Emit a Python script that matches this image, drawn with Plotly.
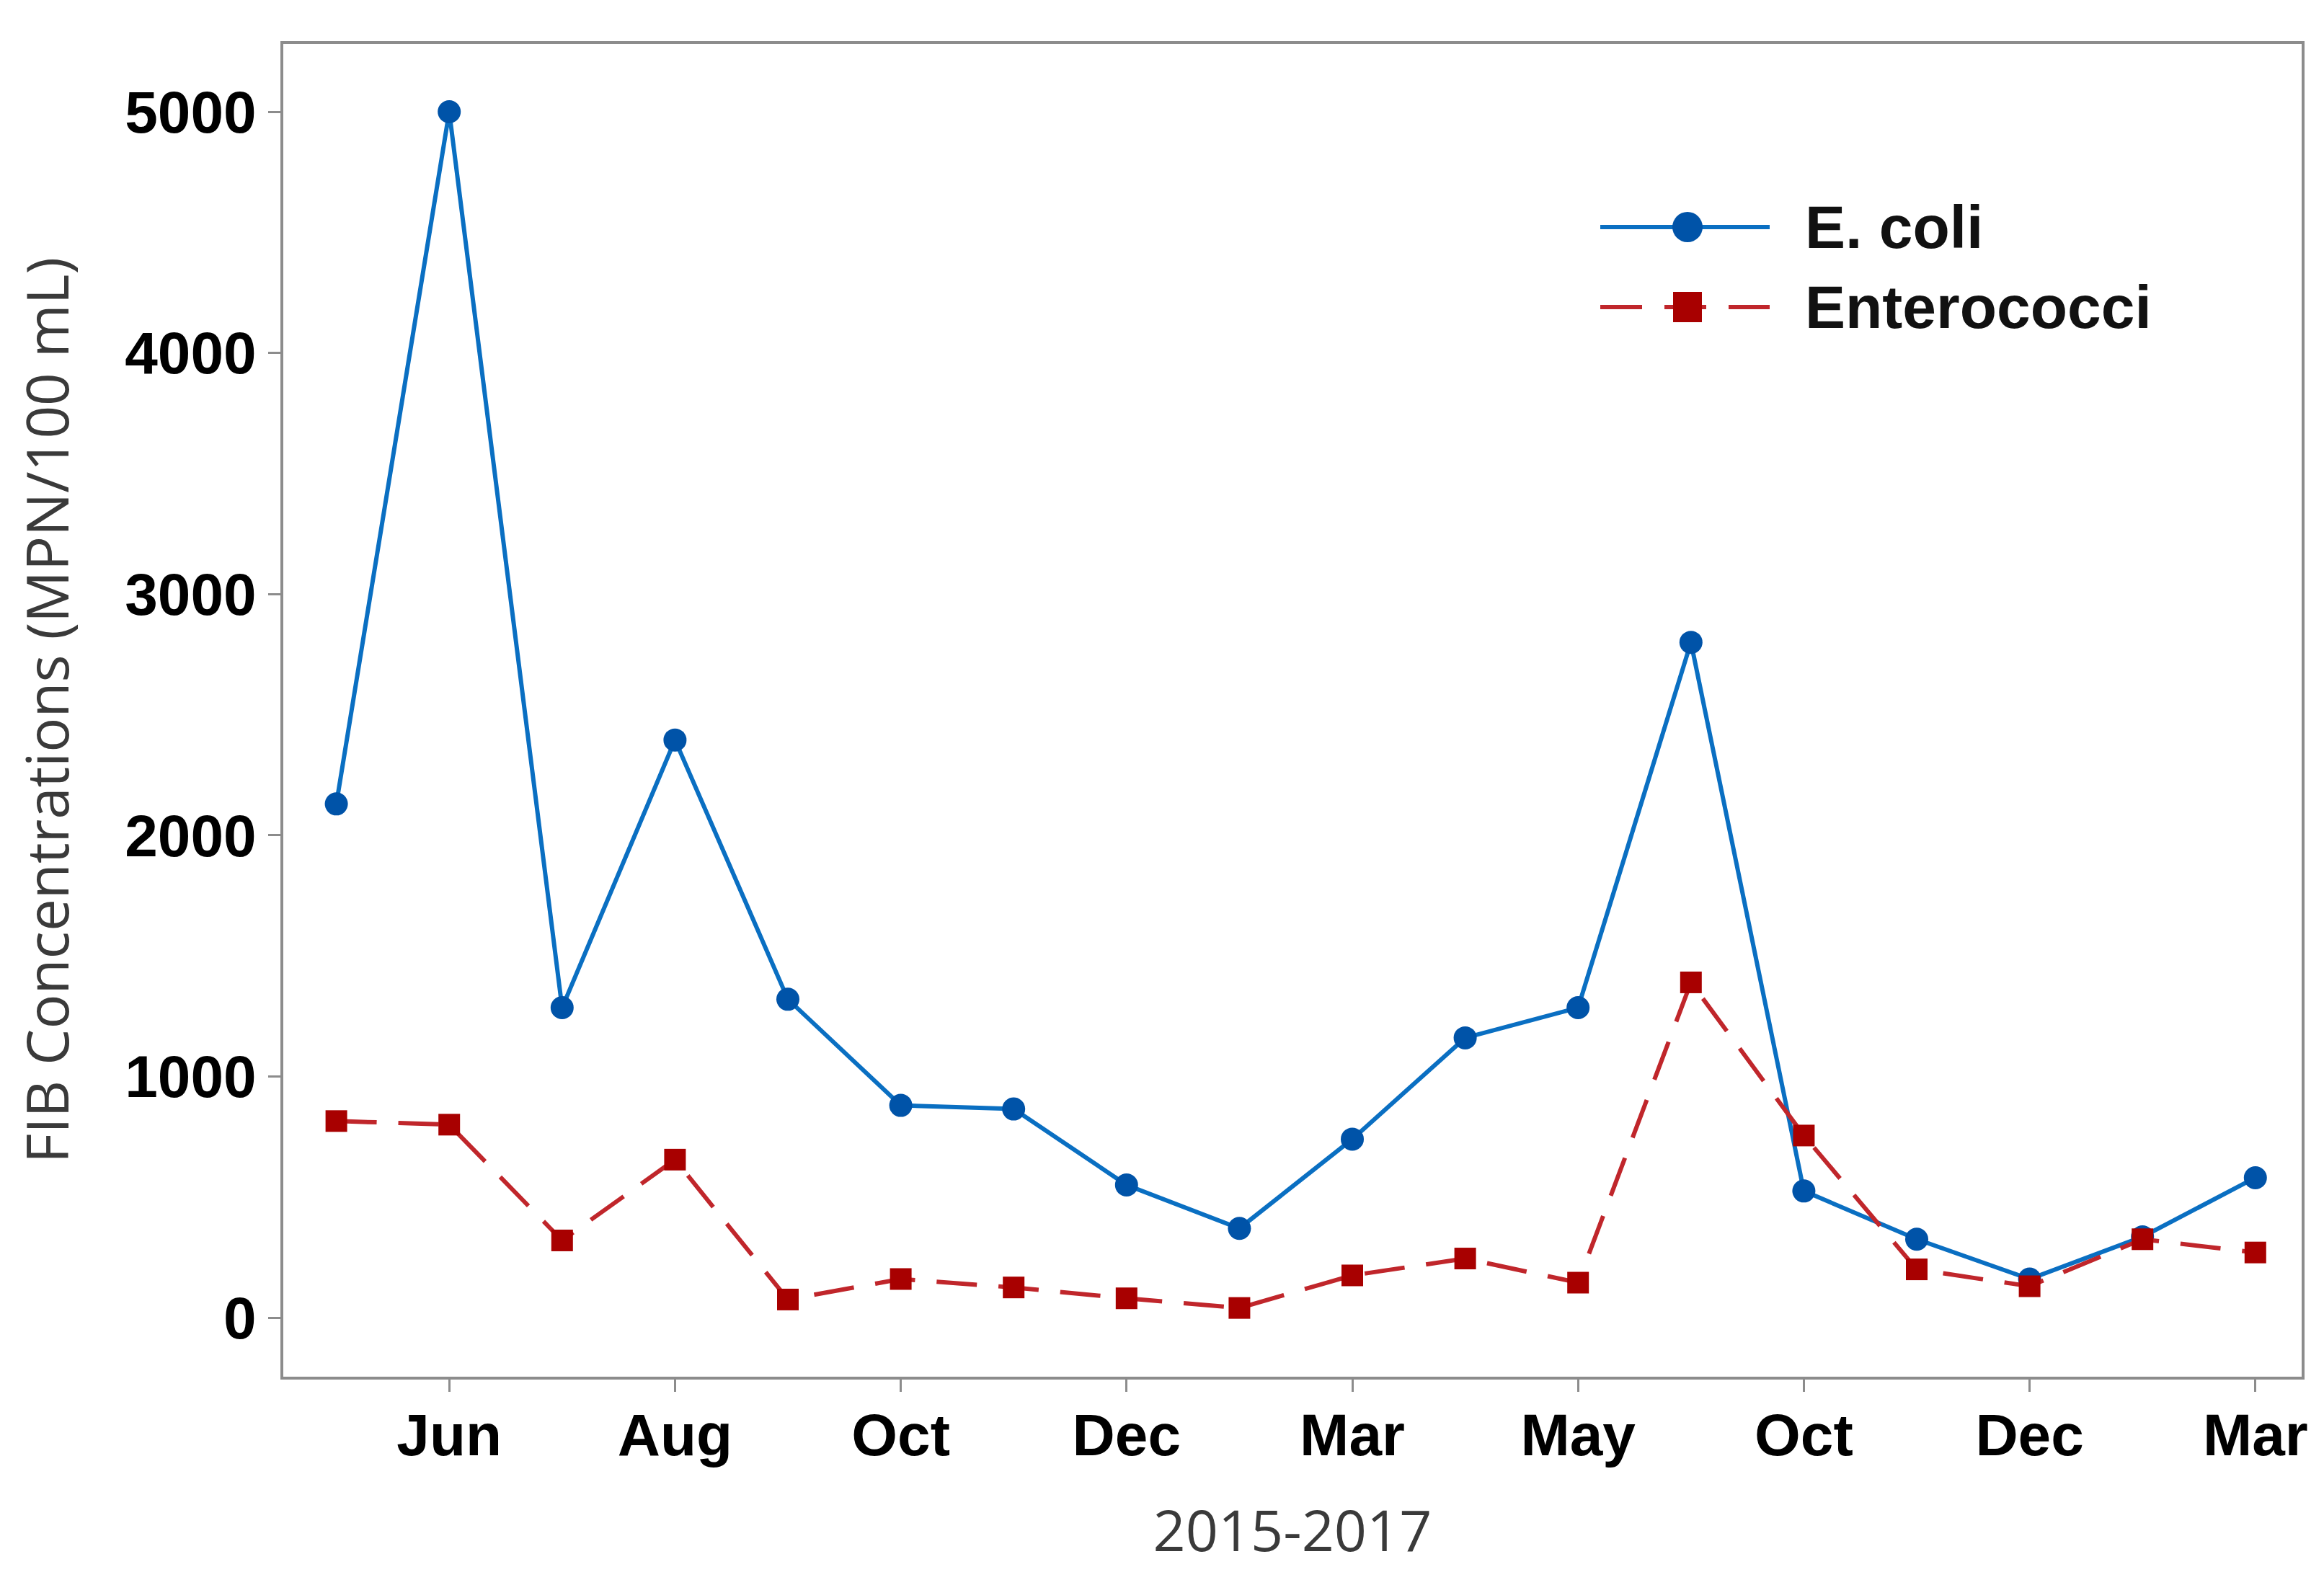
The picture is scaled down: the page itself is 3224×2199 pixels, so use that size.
import plotly.graph_objects as go

# ---- data ----
sample_index = list(range(18))
ecoli = [2130, 5000, 1285, 2395, 1320, 880, 865, 550, 370, 740, 1160, 1285, 2800, 525, 325, 160, 335, 580]
enterococci = [815, 800, 320, 655, 75, 160, 125, 80, 40, 175, 245, 145, 1390, 755, 200, 130, 325, 270]
tick_positions = [1, 3, 5, 7, 9, 11, 13, 15, 17]
tick_labels = ["Jun", "Aug", "Oct", "Dec", "Mar", "May", "Oct", "Dec", "Mar"]
series_names = ["E. coli", "Enterococci"]

W, H = 3224, 2199
L, R, T, B = 385, 39, 53, 297
BLUE_LINE, BLUE_MK = "#0a6fc2", "#0053a8"
RED_LINE, RED_MK = "#c0262b", "#a80000"
DASH = "56px,30px"
FRAME = "#8c8c8c"

fig = go.Figure()
fig.add_trace(go.Scatter(
    x=sample_index, y=ecoli, name=series_names[0], mode="lines+markers",
    line=dict(color=BLUE_LINE, width=6),
    marker=dict(symbol="circle", size=32, color=BLUE_MK),
    showlegend=False))
fig.add_trace(go.Scatter(
    x=sample_index, y=enterococci, name=series_names[1], mode="lines+markers",
    line=dict(color=RED_LINE, width=6, dash=DASH),
    marker=dict(symbol="square", size=30, color=RED_MK),
    showlegend=False))

# ---- custom legend (long key lines as in the reference) ----
pw, ph = W - L - R, H - T - B
def px_x(p):
    return (p - L) / pw
def px_y(p):
    return 1 - (p - T) / ph

x0, x1, xm, xt = px_x(2212), px_x(2447), px_x(2333), px_x(2494)
rows = [px_y(307), px_y(418)]
shapes = []
shapes.append(dict(type="line", xref="paper", yref="paper", x0=x0, x1=x1, y0=rows[0], y1=rows[0],
                   line=dict(color=BLUE_LINE, width=6)))
shapes.append(dict(type="circle", xref="paper", yref="paper", xsizemode="pixel", ysizemode="pixel",
                   xanchor=xm, yanchor=rows[0], x0=-21, x1=21, y0=-21, y1=21,
                   fillcolor=BLUE_MK, line=dict(width=0)))
shapes.append(dict(type="line", xref="paper", yref="paper", x0=x0, x1=x1, y0=rows[1], y1=rows[1],
                   line=dict(color=RED_LINE, width=6, dash="58px,31px")))
shapes.append(dict(type="rect", xref="paper", yref="paper", xsizemode="pixel", ysizemode="pixel",
                   xanchor=xm, yanchor=rows[1], x0=-20, x1=20, y0=-21, y1=21,
                   fillcolor=RED_MK, line=dict(width=0)))
annotations = []
for name, yy in zip(series_names, rows):
    annotations.append(dict(xref="paper", yref="paper", x=xt, y=yy, text=name, showarrow=False,
                            xanchor="left", yanchor="middle",
                            font=dict(family="Liberation Sans", size=84, color="#111111", weight="bold")))

fig.update_layout(
    width=W, height=H,
    margin=dict(l=L, r=R, t=T, b=B, autoexpand=False),
    paper_bgcolor="white", plot_bgcolor="white",
    shapes=shapes, annotations=annotations,
    showlegend=False,
)
fig.update_xaxes(
    range=[-0.47, 17.41], tickvals=tick_positions, ticktext=tick_labels,
    showgrid=False, zeroline=False,
    showline=True, mirror=True, linecolor=FRAME, linewidth=4,
    ticks="outside", ticklen=17, tickwidth=3, tickcolor=FRAME,
    ticklabelstandoff=-10,
    tickfont=dict(family="Liberation Sans", size=82, color="black", weight="bold"),
    title=dict(text="2015-2017", standoff=62,
               font=dict(family="Open Sans", size=79, color="#3a3a3a")),
)
fig.update_yaxes(
    range=[-245, 5281], tickvals=[0, 1000, 2000, 3000, 4000, 5000],
    showgrid=False, zeroline=False,
    showline=True, mirror=True, linecolor=FRAME, linewidth=4,
    ticks="outside", ticklen=17, tickwidth=3, tickcolor=FRAME,
    tickfont=dict(family="Liberation Sans", size=82, color="black", weight="bold"),
    title=dict(text="FIB Concentrations (MPN/100 mL)", standoff=52,
               font=dict(family="Open Sans", size=80, color="#3a3a3a")),
)

fig.write_html("out.html")
